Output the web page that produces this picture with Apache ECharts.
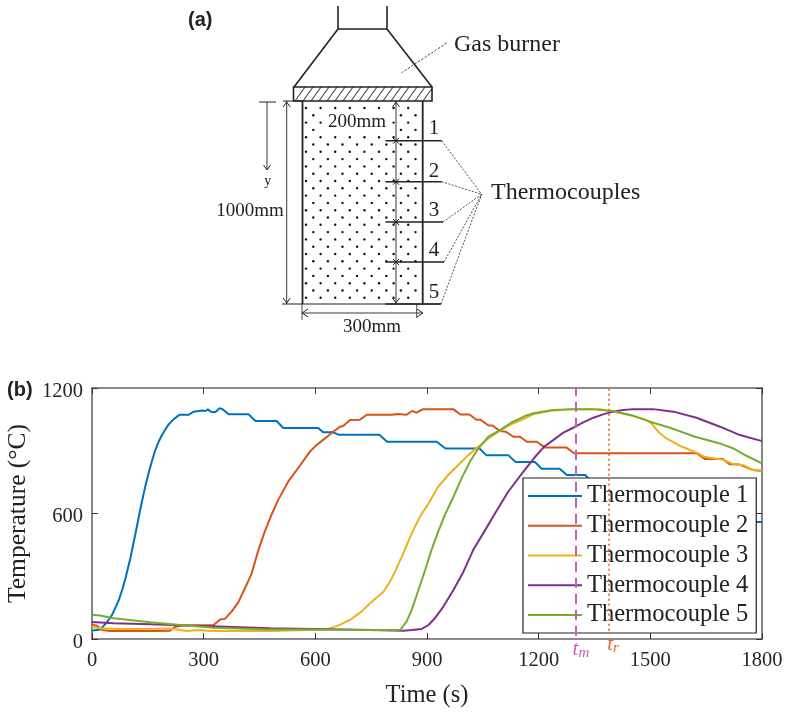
<!DOCTYPE html>
<html>
<head>
<meta charset="utf-8">
<style>html,body{margin:0;padding:0;background:#fff}#main{width:785px;height:712px}</style>
<script src="https://cdn.jsdelivr.net/npm/echarts@6/dist/echarts.min.js"></script>
</head>
<body>
<div id="main"></div>
<script>
// time (s), temperature (C)
const tc1 = [[0,41],[20,44],[27,54],[40,80],[54,115],[72,186],[81,234],[90,290],[103,386],[116,497],[125,577],[134,656],[143,728],[152,792],[161,851],[170,903],[179,943],[188,975],[197,1002],[206,1026],[219,1050],[235,1072],[260,1072],[273,1087],[295,1092],[300,1098],[305,1090],[311,1098],[320,1086],[331,1084],[343,1103],[350,1100],[367,1074],[421,1074],[439,1042],[496,1042],[514,1009],[608,1009],[621,988],[648,988],[662,977],[772,977],[793,943],[926,943],[950,911],[1041,911],[1060,878],[1119,878],[1138,846],[1190,846],[1208,814],[1256,814],[1276,784],[1325,784],[1334,768],[1400,740],[1500,690],[1600,640],[1700,590],[1760,559],[1800,559]];
const tc2 = [[0,70],[13,64],[27,43],[49,38],[170,38],[210,40],[224,59],[245,64],[327,67],[345,94],[357,96],[375,131],[393,175],[415,258],[429,314],[447,425],[464,513],[482,593],[500,664],[527,752],[550,808],[585,895],[603,927],[626,959],[648,991],[666,1015],[675,1018],[693,1047],[720,1048],[738,1072],[805,1072],[823,1076],[845,1072],[860,1090],[872,1082],[888,1098],[971,1098],[990,1073],[1014,1073],[1033,1048],[1044,1048],[1065,1021],[1076,1021],[1096,994],[1112,991],[1132,967],[1150,967],[1168,943],[1195,943],[1217,915],[1275,915],[1295,888],[1624,888],[1647,860],[1695,860],[1713,836],[1740,834],[1776,808],[1800,803]];
const tc3 = [[0,59],[22,51],[72,48],[170,49],[210,50],[255,38],[291,43],[318,38],[478,38],[630,46],[661,64],[693,91],[724,131],[747,171],[783,226],[800,272],[814,322],[832,393],[859,505],[881,585],[904,648],[930,728],[957,784],[984,832],[1011,879],[1038,919],[1065,959],[1092,991],[1127,1027],[1163,1055],[1186,1075],[1231,1091],[1293,1099],[1365,1099],[1400,1087],[1454,1067],[1489,1047],[1503,1031],[1521,991],[1543,959],[1579,924],[1624,891],[1647,870],[1695,857],[1723,836],[1750,831],[1776,808],[1800,806]];
const tc4 = [[0,81],[58,75],[157,70],[255,64],[381,57],[478,51],[671,46],[747,43],[836,40],[859,43],[886,48],[904,67],[921,99],[944,155],[971,234],[998,322],[1024,425],[1051,505],[1083,601],[1118,704],[1159,800],[1190,870],[1215,920],[1239,951],[1265,985],[1293,1010],[1320,1036],[1347,1058],[1375,1075],[1400,1087],[1427,1095],[1454,1099],[1508,1099],[1562,1087],[1624,1058],[1687,1015],[1741,975],[1800,946]];
const tc5 = [[0,116],[22,112],[58,99],[157,80],[237,67],[327,54],[478,45],[598,46],[747,43],[828,43],[832,46],[845,83],[859,139],[877,234],[895,330],[912,425],[930,513],[948,593],[971,680],[993,768],[1015,847],[1038,911],[1065,967],[1096,999],[1127,1035],[1163,1066],[1186,1079],[1239,1095],[1293,1099],[1338,1099],[1400,1090],[1454,1067],[1499,1039],[1553,1010],[1620,967],[1687,935],[1723,911],[1758,876],[1800,840]];
const seriesNames = ['Thermocouple 1','Thermocouple 2','Thermocouple 3','Thermocouple 4','Thermocouple 5'];
const seriesData = [tc1,tc2,tc3,tc4,tc5];
const seriesColors = ['#0072BD','#D95319','#EDB120','#7E2F8E','#77AC30'];
const tM = 1300, tR = 1389;

const serif = '"Liberation Serif"';
const ink = '#222';
const g = [];

function ln(x1,y1,x2,y2,w,dash){
  g.push({type:'line',silent:true,shape:{x1,y1,x2,y2},style:{stroke:ink,lineWidth:w||1,lineDash:dash||null}});
}
function txt(s,x,y,size,align,font,weight){
  g.push({type:'text',silent:true,x,y,style:{text:s,font:(weight||'normal')+' '+size+'px '+(font||serif),fill:ink,align:align||'left',verticalAlign:'middle'}});
}
// open arrow head, dir is 1 pointing down, -1 up
function headV(x,y,dir){ ln(x-3.5,y-5*dir,x,y,1); ln(x+3.5,y-5*dir,x,y,1); }
function headH(x,y,dir){ ln(x-6*dir,y-4,x,y,1); ln(x-6*dir,y+4,x,y,1); }

// (a) burner
ln(338,6,338,29,1.6); ln(387,6,387,29,1.6); ln(338,29,387,29,1.6);
ln(338,29,294,87,1.6); ln(387,29,432,87,1.6);
g.push({type:'rect',silent:true,shape:{x:293.5,y:87,width:138.5,height:14},style:{fill:'#fff',stroke:ink,lineWidth:1.6}});
for(let x=295;x<430;x+=8){
  const x2=Math.min(x+10,432), y2=101-(x2-x)*14/10;
  ln(x,101,x2,y2,1);
}
// (a) block and dots, the 200mm label sits in a gap of the dots
for(let k=0;k<=26;k++){
  const y=108+7.3*k;
  for(let x=(k%2?313.3:306);x<421;x+=14.6){
    if(x>326&&x<388&&y>113&&y<131) continue;
    g.push({type:'circle',silent:true,shape:{cx:x,cy:y,r:1.2},style:{fill:'#111'}});
  }
}
ln(302.5,101,302.5,304,1.8); ln(422.7,101,422.7,304,1.8);
ln(282,304,441,304,1.2);
// dimensions
ln(396,101,396,304,0.9); headV(396,102,-1); headV(396,303,1);
ln(286.7,101,286.7,304,0.9); headV(286.7,102,-1); headV(286.7,303,1);
ln(283,101,302,101,1);
ln(259,102,276,102,1); ln(267,102,267,170,0.9); headV(267,170,1);
ln(302,304,302,320,0.8); ln(416.7,304,416.7,318,0.8);
ln(302,313,423,313,0.9); headH(302,313,-1); headH(423,313,1);
// thermocouples
const tcY=[140.7,181.7,222,262,304], tcEnd=[441.7,441.7,443,444,441], tcNumY=[128,171,210,250,292.5];
for(let i=0;i<5;i++){
  ln(385.5,tcY[i],tcEnd[i],tcY[i],1.6);
  if(i<4){ ln(393,tcY[i]-3,399,tcY[i]+3,1); ln(393,tcY[i]+3,399,tcY[i]-3,1); }
  ln(tcEnd[i],tcY[i],481.7,194.3,0.8,[2,1.5]);
  txt(String(i+1),434,tcNumY[i],21,'center');
}
ln(446.7,43,401.7,72.7,0.8,[2.5,1.5]);
txt('200mm',357,122,19,'center');
txt('1000mm',250,211,19,'center');
txt('300mm',372,327,19,'center');
txt('y',267.7,181,14,'center');
txt('Gas burner',454,45,24);
txt('Thermocouples',491,193,24);
txt('(a)',188,20,20,'left','"Liberation Sans"','bold');
txt('(b)',7,390,20,'left','"Liberation Sans"','bold');

function vline(t,bottom,color,type,name,off){
  return {
    silent:true,symbol:'none',z:6,
    lineStyle:{color,type,width:2},
    label:{show:true,position:'start',distance:2,offset:[off,0],formatter:'{a|t}{b|'+name+'}',
      rich:{a:{fontFamily:serif,fontStyle:'italic',fontSize:21,color},b:{fontFamily:serif,fontStyle:'italic',fontSize:15,color,verticalAlign:'bottom',padding:[8,0,0,0]}}},
    data:[[{coord:[t,bottom]},{coord:[t,1200]}]]
  };
}

const series = seriesNames.map((name,i)=>({
  name,type:'line',data:seriesData[i],symbol:'none',smooth:false,
  lineStyle:{color:seriesColors[i],width:2},itemStyle:{color:seriesColors[i]},
  z:2+i*0.1
}));
series[0].markLine = vline(tM,15,'#C65BC0',[10,6],'m',5);
series[1].markLine = vline(tR,40,'#E8632B',[2,3],'r',4);
series[1].markLine.lineStyle.width = 1.6;

const tickFont = {fontFamily:serif,fontSize:20.5,color:'#262626',formatter:v=>String(v)};
const lineSt = {onZero:false,lineStyle:{color:'#666',width:1.6}};
const tickIn = {show:true,inside:true,length:6,lineStyle:{color:'#333',width:1}};

const chart = echarts.init(document.getElementById('main'));
chart.setOption({
  animation:false,
  backgroundColor:'#fff',
  grid:{left:92,right:23,top:388,bottom:73,containLabel:false,outerBoundsMode:'none'},
  legend:{
    data:seriesNames,orient:'vertical',left:523,top:478,
    backgroundColor:'#fff',borderColor:'#222',borderWidth:1.2,
    padding:[4,8,4,5],itemWidth:54,itemHeight:2,itemGap:1.75,icon:'rect',
    textStyle:{fontFamily:serif,fontSize:24.5,color:ink,lineHeight:28}
  },
  xAxis:[
    {type:'value',min:0,max:1800,interval:300,position:'bottom',name:'Time (s)',nameLocation:'middle',nameGap:44,
     nameTextStyle:{fontFamily:serif,fontSize:24.5,color:ink},
     axisLine:lineSt,axisTick:tickIn,splitLine:{show:false},
     axisLabel:Object.assign({margin:11},tickFont)},
    {type:'value',min:0,max:1800,interval:300,position:'top',
     axisLine:lineSt,axisTick:tickIn,axisLabel:{show:false},splitLine:{show:false}}
  ],
  yAxis:[
    {type:'value',min:0,max:1200,interval:600,position:'left',name:'Temperature (°C)',nameLocation:'middle',nameGap:50,
     nameTextStyle:{fontFamily:serif,fontSize:25.5,color:ink},
     axisLine:lineSt,axisTick:tickIn,splitLine:{show:false},
     // short line box hung from the tick pushes the digits a little below it
     axisLabel:Object.assign({margin:9,verticalAlign:'top',lineHeight:7},tickFont)},
    {type:'value',min:0,max:1200,interval:600,position:'right',
     axisLine:lineSt,axisTick:tickIn,axisLabel:{show:false},splitLine:{show:false}}
  ],
  series,
  graphic:{elements:g}
});
</script>
</body>
</html>
